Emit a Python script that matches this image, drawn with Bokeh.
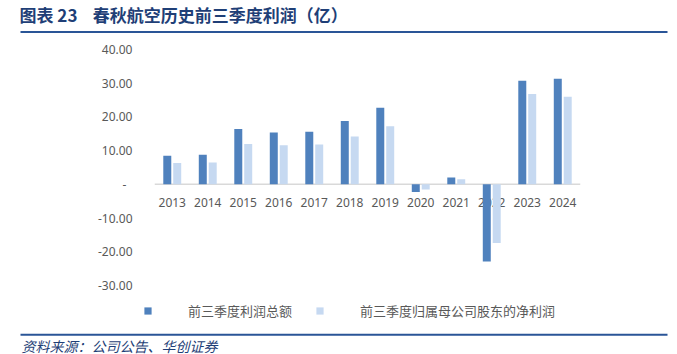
from bokeh.plotting import figure
from bokeh.layouts import column
from bokeh.models import (ColumnDataSource, FactorRange, Range1d, FixedTicker,
                          CustomJSTickFormatter, Span, Label, Legend, LegendItem)
from bokeh.transform import dodge
from bokeh.core.properties import value
from bokeh.embed import file_html
from bokeh.resources import INLINE

years = ["2013", "2014", "2015", "2016", "2017", "2018", "2019",
         "2020", "2021", "2022", "2023", "2024"]
total_profit = [8.5, 8.8, 16.4, 15.4, 15.6, 18.8, 22.7, -2.3, 2.0, -22.9, 30.7, 31.3]
net_profit = [6.3, 6.5, 12.0, 11.6, 11.8, 14.2, 17.2, -1.5, 1.5, -17.4, 26.8, 26.0]
y_ticks = [-30, -20, -10, 0, 10, 20, 30, 40]

title_text = "图表\u00a023\u00a0\u00a0\u00a0\u00a0春秋航空历史前三季度利润（亿）"
source_text = "资料来源：公司公告、华创证券"
series_names = ["前三季度利润总额", "前三季度归属母公司股东的净利润"]

DARK = "#4F81BD"
LIGHT = "#C6D9F1"
GREY = "#595959"
NAVY = "#1F3F77"
RULE = "#2A5597"
CJK = "Noto Sans CJK SC"
W = 677


def bare(fig):
    fig.outline_line_color = None
    fig.xgrid.visible = False
    fig.ygrid.visible = False
    fig.background_fill_color = "white"
    fig.border_fill_color = "white"
    if "frame_align" in fig.properties():
        fig.frame_align = False
    return fig


# ---- header: title + rule ----
top_h = 40
top = bare(figure(width=W, height=top_h, output_backend="svg", toolbar_location=None,
                  x_range=Range1d(0, W), y_range=Range1d(top_h, 0), tools="",
                  min_border=0, x_axis_location=None, y_axis_location=None))
top.add_layout(Label(x=19, y=14, text=title_text, text_font=CJK, text_font_size="17px",
                     text_font_style="bold", text_color=NAVY, text_baseline="middle"))
top.segment(x0=[20], y0=[31.5], x1=[667], y1=[31.5], line_color=RULE, line_width=2)

# ---- main chart ----
src = ColumnDataSource(data=dict(year=years, total=total_profit, net=net_profit,
                                 zero=[0] * len(years)))

main_h = 260
p = bare(figure(width=W, height=main_h, output_backend="svg", toolbar_location=None,
                x_range=FactorRange(factors=years), y_range=Range1d(-30, 40), tools="",
                min_border_left=154, min_border_right=97, min_border_top=9,
                min_border_bottom=15))
p.xaxis.visible = False

ya = p.yaxis[0]
ya.ticker = FixedTicker(ticks=y_ticks)
ya.formatter = CustomJSTickFormatter(code="return tick == 0 ? '-\u00a0\u00a0' : tick.toFixed(2);")
ya.axis_line_color = None
ya.major_tick_line_color = None
ya.minor_tick_line_color = None
ya.major_label_standoff = 16
ya.major_label_text_font = "Noto Sans"
ya.major_label_text_font_size = "12px"
ya.major_label_text_color = GREY

p.add_layout(Span(location=0, dimension="width", line_color="#D9D9D9", line_width=1.5,
                  level="underlay"))

p.text(x="year", y="zero", text="year", source=src, y_offset=18,
       text_align="center", text_baseline="middle",
       text_font=value("Noto Sans"), text_font_size="12px", text_color=GREY)

p.vbar(x=dodge("year", -0.14, range=p.x_range), top="total", width=0.225,
       source=src, fill_color=DARK, line_color=None)
p.vbar(x=dodge("year", 0.14, range=p.x_range), top="net", width=0.225,
       source=src, fill_color=LIGHT, line_color=None)

# ---- footer: legend + rule + source ----
bot_h = 354 - top_h - main_h
bot = bare(figure(width=W, height=bot_h, output_backend="svg", toolbar_location=None,
                  x_range=Range1d(0, W), y_range=Range1d(bot_h, 0), tools="",
                  min_border=0, x_axis_location=None, y_axis_location=None))
# zero-size swatch renderers (only used for the legend keys)
g1 = bot.vbar(x="zero", top="zero", bottom="zero", width=0, source=src,
              fill_color=DARK, line_color=None)
g2 = bot.vbar(x="zero", top="zero", bottom="zero", width=0, source=src,
              fill_color=LIGHT, line_color=None)
legend = Legend(items=[LegendItem(label=series_names[0], renderers=[g1], index=0),
                       LegendItem(label=series_names[1], renderers=[g2], index=0)],
                location=(143, 34), orientation="horizontal",
                glyph_width=9, glyph_height=9, label_height=9, label_standoff=36,
                spacing=23, margin=0, padding=0, border_line_color=None,
                background_fill_alpha=0,
                label_text_font=CJK, label_text_font_size="13px",
                label_text_color=GREY)
bot.add_layout(legend)
bot.segment(x0=[20], y0=[34.3], x1=[667], y1=[34.3], line_color=RULE, line_width=2)
bot.add_layout(Label(x=21, y=45, text=source_text, text_font=CJK, text_font_size="14px",
                     text_font_style="italic", text_color=NAVY, text_baseline="middle"))

layout = column(top, p, bot, spacing=0)
open("out.html", "w").write(file_html(layout, INLINE))
